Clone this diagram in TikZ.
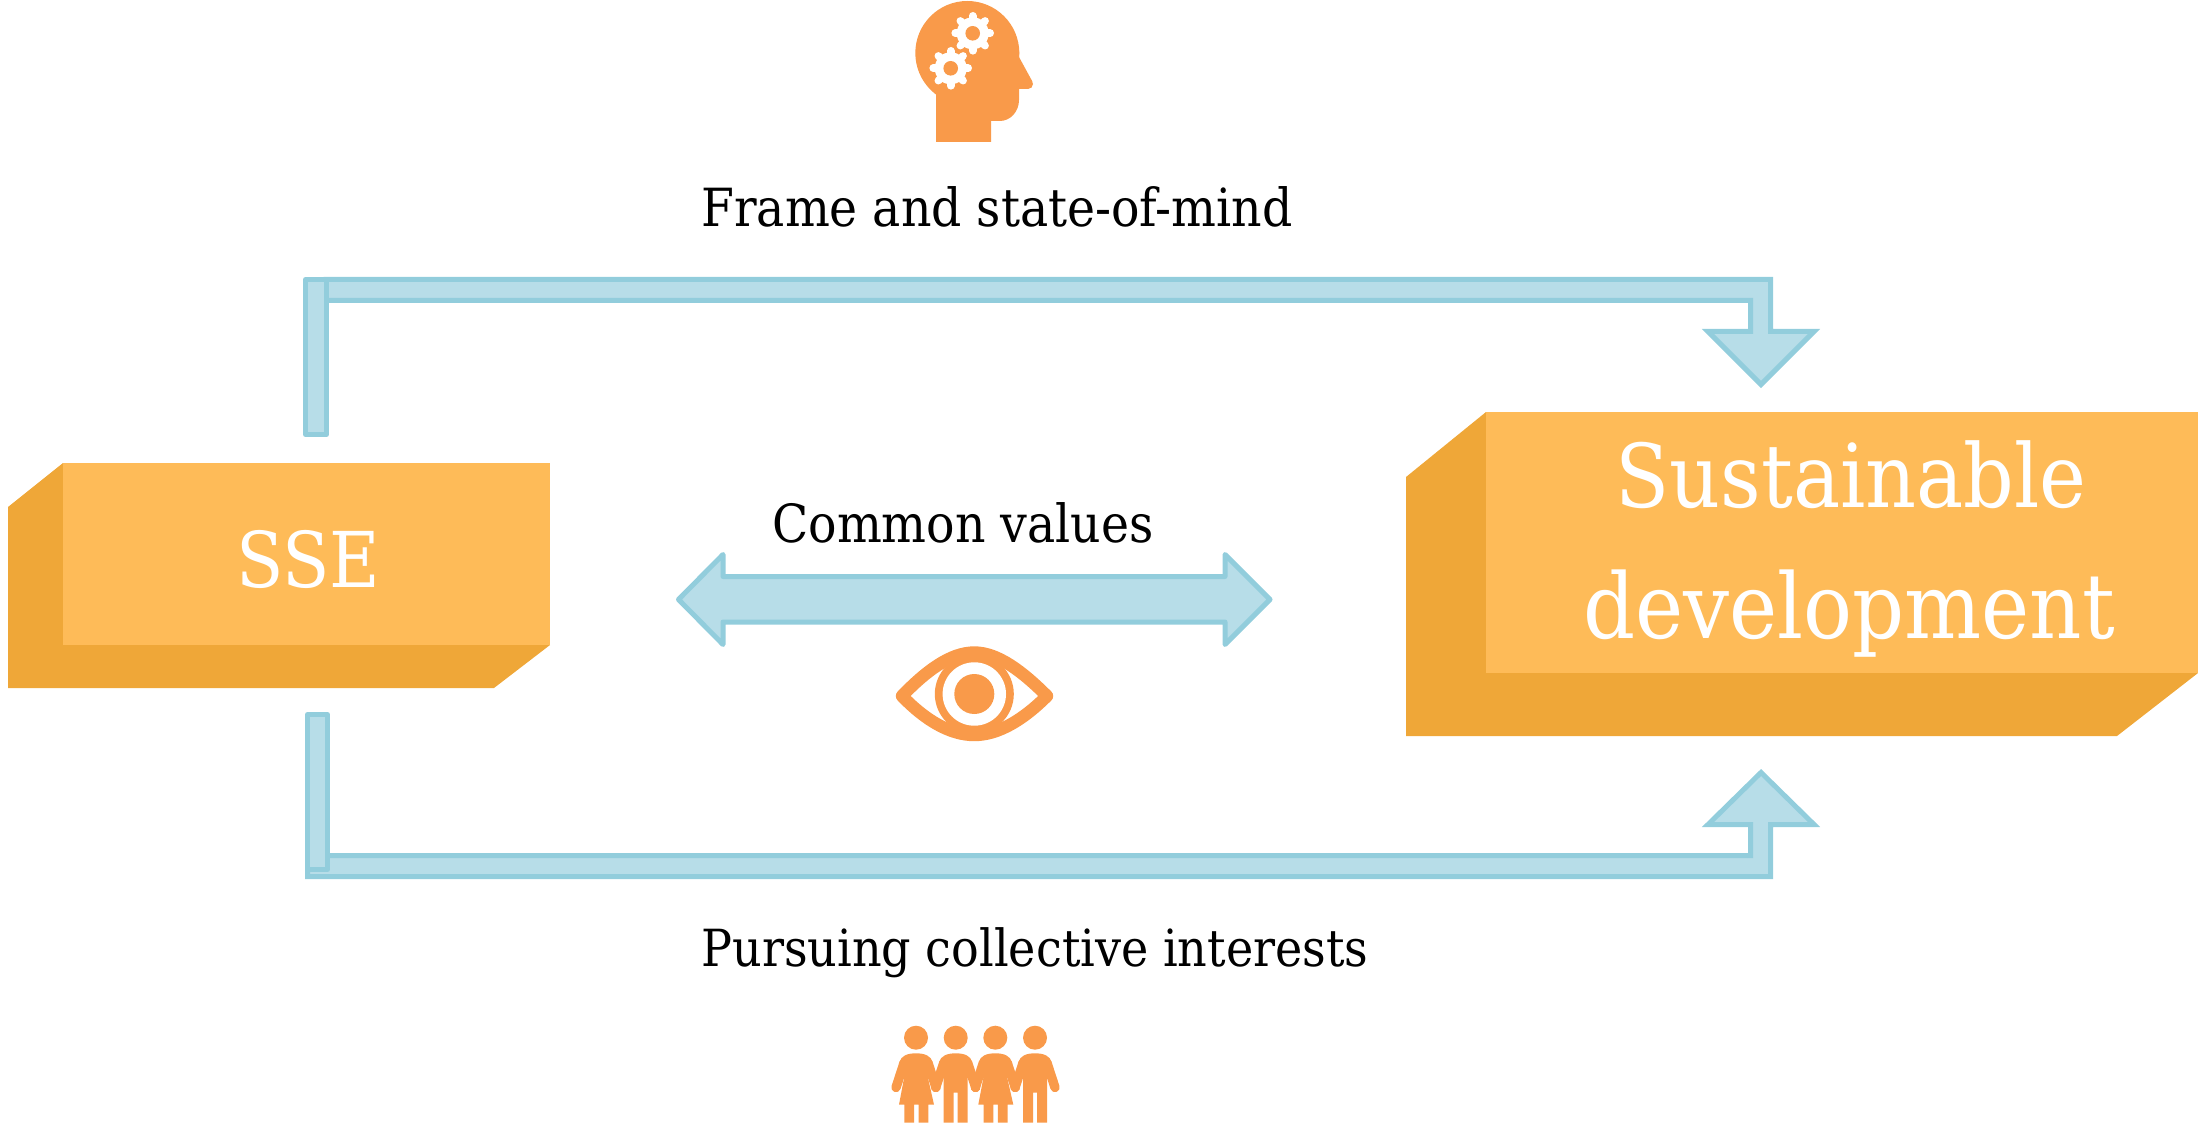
\documentclass[tikz,border=0pt]{standalone}
\usepackage{fontspec}
\newfontfamily\slab{DejaVu Serif Condensed}
\definecolor{boxfront}{HTML}{FEBB58}
\definecolor{boxside}{HTML}{EFA738}
\definecolor{arrowfill}{HTML}{B7DDE8}
\definecolor{arrowline}{HTML}{92CDDC}
\definecolor{icon}{HTML}{F99A4A}
\tikzset{
  blockarrow/.style={fill=arrowfill,draw=arrowline,line width=2.5pt,miter limit=10},
  roundarrow/.style={blockarrow,line join=round},
  front/.style={fill=boxfront,inner sep=0pt,text=white},
  side/.style={fill=boxside},
  label/.style={anchor=base west,inner sep=0pt,text=black},
  title/.style={anchor=base west,inner sep=0pt,text=white},
}
\newcommand{\gearicon}[2]{%
  \fill[white] (#1,#2) circle [radius=16];
  \foreach \a in {0,45,...,315}{\draw[white,line width=3.8pt,line cap=round] (#1,#2) -- ++(\a:17.5);}
  \fill[icon] (#1,#2) circle [radius=7.3];
}
\newcommand{\personhead}[1]{\fill[icon] (#1,1037.7) circle [radius=12];}
\newcommand{\personarms}[1]{%
  \begin{scope}[shift={(#1,0)}]
    \draw[icon,line width=4.7pt,line cap=round] (-12,1063) -- (-20,1087.5);
    \draw[icon,line width=4.7pt,line cap=round] (12,1063) -- (20,1087.5);
  \end{scope}}
\newcommand{\womanicon}[1]{%
  \personhead{#1}\personarms{#1}
  \begin{scope}[shift={(#1,0)}]
    \fill[icon] (0,1053.3) .. controls (-9,1053.3) and (-15,1056) .. (-16.5,1062)
      -- (-12,1078) -- (-17,1104.7) -- (-11.7,1104.7) -- (-11.7,1122.7) -- (-2,1122.7) -- (-2,1104.7)
      -- (2.5,1104.7) -- (2.5,1122.7) -- (12.3,1122.7) -- (12.3,1104.7) -- (18,1104.7) -- (12,1078) -- (16.5,1062)
      .. controls (15,1056) and (9,1053.3) .. (0,1053.3) -- cycle;
  \end{scope}}
\newcommand{\manicon}[1]{%
  \personhead{#1}\personarms{#1}
  \begin{scope}[shift={(#1,0)}]
    \fill[icon] (0,1053.3) .. controls (-9,1053.3) and (-15,1056) .. (-16.5,1062)
      -- (-12,1078) -- (-12,1122.7) -- (-2,1122.7) -- (-2,1092.7)
      -- (2,1092.7) -- (2,1122.7) -- (12,1122.7) -- (12,1078) -- (16.5,1062)
      .. controls (15,1056) and (9,1053.3) .. (0,1053.3) -- cycle;
  \end{scope}}
\begin{document}
\begin{tikzpicture}[x=0.5pt,y=-0.5pt]
\useasboundingbox (0,0) rectangle (2198,1128);

% SSE box
\fill[side] (63,463) -- (8,507) -- (8,688) -- (494,688) -- (550,645) -- (63,645) -- cycle;
\node[front,minimum width=243.5pt,minimum height=91pt,anchor=north west] (sse) at (63,463) {};
\node[title,font=\slab\fontsize{38.5}{44}\selectfont] (ssetext) at (236,587) {SSE};

% Sustainable development box
\fill[side] (1486,412) -- (1406,477) -- (1406,736) -- (2117,736) -- (2198,673) -- (1486,673) -- cycle;
\node[front,minimum width=356pt,minimum height=130.5pt,anchor=north west] (sd) at (1486,412) {};
\node[title,font=\slab\fontsize{44}{50}\selectfont] (sdone) at (1615,507) {Sustainable};
\node[title,font=\slab\fontsize{45.2}{50}\selectfont] (sdtwo) at (1583,638) {development};

% top bent arrow
\path[blockarrow] (326,279.5) -- (1770.5,279.5) -- (1770.5,331.5) -- (1814,331.5) -- (1761,384.5)
  -- (1708,331.5) -- (1750.5,331.5) -- (1750.5,300.5) -- (326,300.5) -- cycle;
\path[roundarrow] (305.5,279.5) rectangle (326.5,434.5);

% bottom bent arrow
\path[blockarrow] (307.5,855.5) -- (1750.5,855.5) -- (1750.5,824.5) -- (1708,824.5) -- (1761,772.5)
  -- (1814,824.5) -- (1770.5,824.5) -- (1770.5,876.5) -- (307.5,876.5) -- cycle;
\path[roundarrow] (307.5,714.5) rectangle (327.5,869.5);

% double arrow
\path[roundarrow] (678.5,599.5) -- (723,554.5) -- (723,576.5) -- (1225,576.5) -- (1225,554.5) -- (1270,599.5)
  -- (1225,644.5) -- (1225,622) -- (723,622) -- (723,644.5) -- cycle;

% labels
\node[label,font=\slab\fontsize{26.3}{30}\selectfont] (frame) at (701,227) {Frame and state-of-mind};
\node[label,font=\slab\fontsize{26.3}{30}\selectfont] (common) at (772,542) {Common values};
\node[label,font=\slab\fontsize{25.6}{30}\selectfont] (pursue) at (701,966) {Pursuing collective interests};

% head icon
\fill[icon] (967.3,53) circle [radius=52];
\fill[icon] (1028,84) circle [radius=5];
\fill[icon] (936,142) -- (936,90) -- (1019,50) -- (1019,57) -- (1032.4,81.6) -- (1028,89) -- (1019,89) -- (1019,100)
  .. controls (1019,112) and (1010,121) .. (1000,121) -- (991,121) -- (991,142) -- cycle;
\gearicon{972.7}{33.3}
\gearicon{950.7}{68.3}

% eye icon
\fill[white] (902,696) .. controls (925,672) and (950,652.5) .. (974.3,652.5)
  .. controls (998,652.5) and (1023,672) .. (1047,696)
  .. controls (1023,720) and (998,735) .. (974.3,735)
  .. controls (950,735) and (925,720) .. (902,696) -- cycle;
\fill[icon] (974.3,694) circle [radius=39.5];
\fill[white] (974.3,694) circle [radius=31.7];
\fill[icon] (974.3,694) circle [radius=20];
\draw[icon,line width=6.2pt,line join=round] (902,696) .. controls (925,672) and (950,652.5) .. (974.3,652.5)
  .. controls (998,652.5) and (1023,672) .. (1047,696)
  .. controls (1023,720) and (998,735) .. (974.3,735)
  .. controls (950,735) and (925,720) .. (902,696) -- cycle;

% people icon
\womanicon{916}
\manicon{955.7}
\womanicon{995.3}
\manicon{1035}
\end{tikzpicture}
\end{document}
